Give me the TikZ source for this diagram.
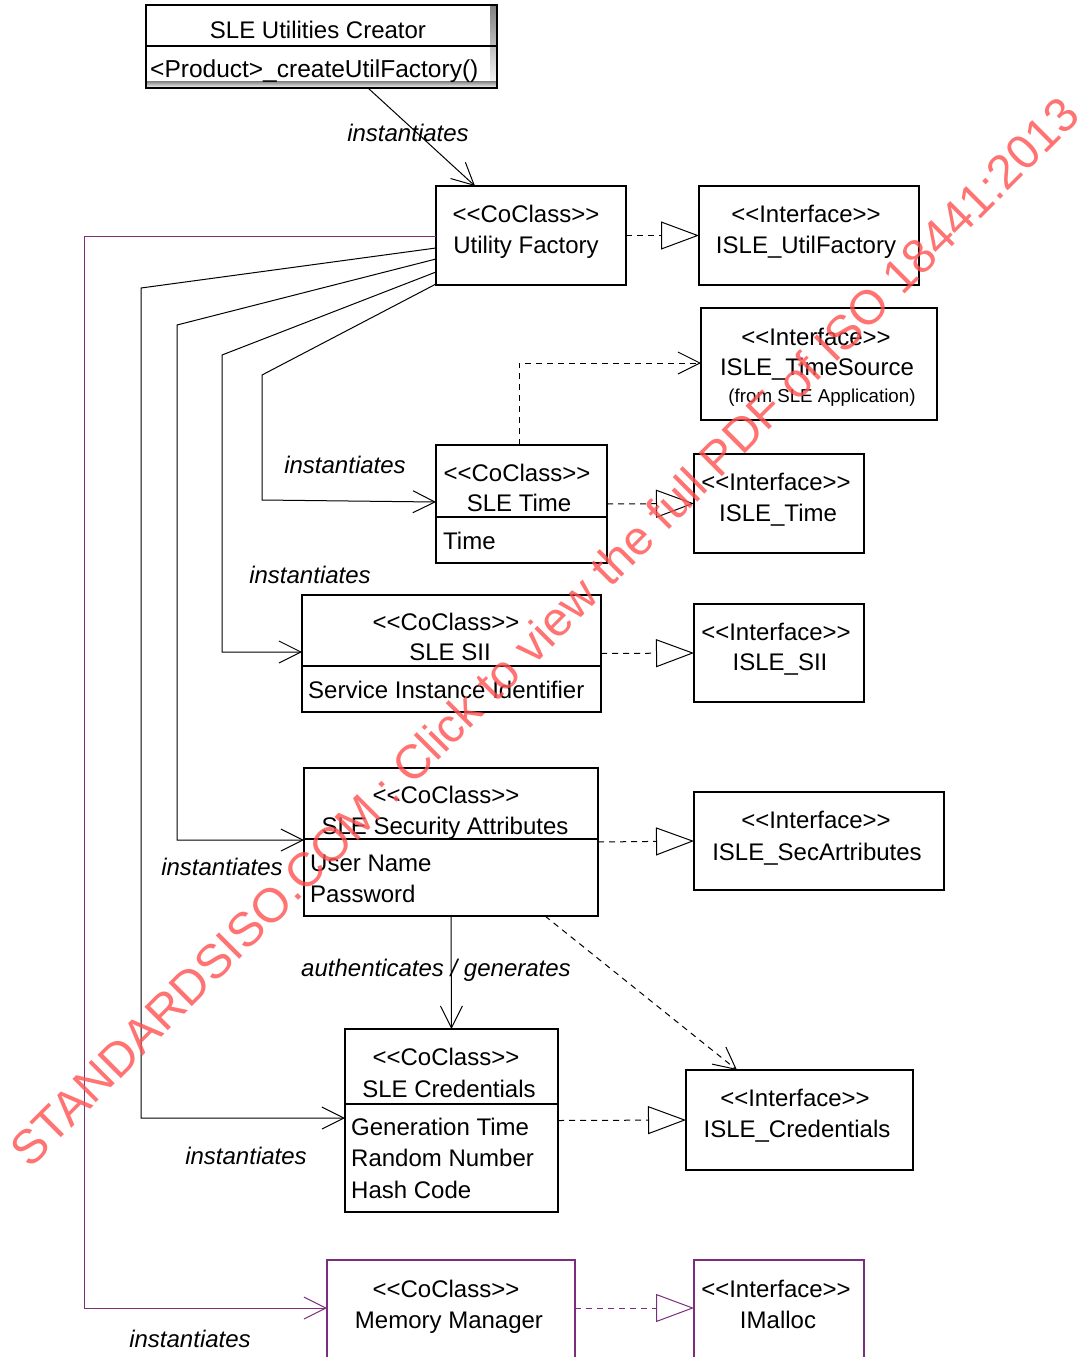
\documentclass[tikz,border=0pt]{standalone}
\usepackage{fontspec}
\setmainfont{Liberation Sans}[Ligatures=TeXOff]
\usetikzlibrary{arrows.meta,calc}
\definecolor{purp}{RGB}{125,45,125}
\definecolor{wm}{RGB}{255,80,80}
\definecolor{shade}{RGB}{128,128,128}
\begin{document}
\begin{tikzpicture}[x=1pt,y=-1pt,
  box/.style={draw, line width=1.2pt, anchor=north west, inner sep=0pt, outer sep=0pt},
  t/.style={font=\fontsize{24}{28}\selectfont, inner sep=0pt, anchor=base},
  tl/.style={t, anchor=base west},
  lab/.style={font=\fontsize{24}{28}\selectfont\itshape, inner sep=0pt, anchor=base},
  conn/.style={line width=1pt},
  inst/.style={conn, -{Straight Barb[length=22pt,width=22pt]}},
  real/.style={conn, dash pattern=on 6pt off 5pt, -{Triangle[open,length=38pt,width=28pt]}},
  dep/.style={conn, dash pattern=on 6pt off 5pt, -{Straight Barb[length=22pt,width=22pt]}},
  divider/.style={line width=1.2pt}
]
\useasboundingbox (0,0) rectangle (1077,1357);

% ---------- boxes ----------
\node[box, minimum width=351pt, minimum height=83pt] (cr) at (146,5) {};
\fill[shade] ($(cr.north east)+(-7,0)$) rectangle (cr.south east);
\fill[shade] ($(cr.south west)+(0,-7)$) rectangle (cr.south east);
\draw[line width=1.2pt] (cr.north west) rectangle (cr.south east);
\draw[divider] ($(cr.north west)+(0,41)$) -- ($(cr.north east)+(0,41)$);

\node[box, minimum width=190pt, minimum height=99pt] (uf) at (436,186) {};
\node[box, minimum width=220pt, minimum height=99pt] (iuf) at (699,186) {};
\node[box, minimum width=236pt, minimum height=112pt] (its) at (701,308) {};
\node[box, minimum width=171pt, minimum height=118pt] (time) at (436,445) {};
\draw[divider] ($(time.north west)+(0,72)$) -- ($(time.north east)+(0,72)$);
\node[box, minimum width=170pt, minimum height=99pt] (itime) at (694,454) {};
\node[box, minimum width=299pt, minimum height=117pt] (sii) at (302,595) {};
\draw[divider] ($(sii.north west)+(0,71)$) -- ($(sii.north east)+(0,71)$);
\node[box, minimum width=170pt, minimum height=98pt] (isii) at (694,604) {};
\node[box, minimum width=294pt, minimum height=148pt] (sa) at (304,768) {};
\draw[divider] ($(sa.north west)+(0,71)$) -- ($(sa.north east)+(0,71)$);
\node[box, minimum width=250pt, minimum height=98pt] (isa) at (694,792) {};
\node[box, minimum width=213pt, minimum height=183pt] (cred) at (345,1029) {};
\draw[divider] ($(cred.north west)+(0,75)$) -- ($(cred.north east)+(0,75)$);
\node[box, minimum width=227pt, minimum height=100pt] (icred) at (686,1070) {};
\node[box, draw=purp, minimum width=248pt, minimum height=130pt] (mm) at (327,1260) {};
\node[box, draw=purp, minimum width=170pt, minimum height=130pt] (imal) at (694,1260) {};

% ---------- texts ----------
\node[t] (crT) at (318,38) {SLE Utilities Creator};
\node[tl, font=\fontsize{24.5}{28}\selectfont] (crO) at (150,77) {<Product>\_createUtilFactory()};

\node[t] (ufS) at (526,222) {<<CoClass>>};
\node[t] (ufN) at (526,253) {Utility Factory};
\node[t] (iufS) at (806,222) {<<Interface>>};
\node[t] (iufN) at (806,253) {ISLE\_UtilFactory};

\node[t] (itsS) at (816,345) {<<Interface>>};
\node[t] (itsN) at (817,375) {ISLE\_TimeSource};
\node[font=\fontsize{18.7}{22}\selectfont, inner sep=0pt, anchor=base] (itsF) at (822,402) {(from SLE Application)};

\node[t] (timeS) at (517,481) {<<CoClass>>};
\node[t] (timeN) at (519,511) {SLE Time};
\node[tl] (timeA) at (443,549) {Time};
\node[t] (itimeS) at (776,490) {<<Interface>>};
\node[t] (itimeN) at (778,521) {ISLE\_Time};

\node[t] (siiS) at (446,630) {<<CoClass>>};
\node[t] (siiN) at (450,660) {SLE SII};
\node[tl] (siiA) at (308,698) {Service Instance Identifier};
\node[t] (isiiS) at (776,640) {<<Interface>>};
\node[t] (isiiN) at (780,670) {ISLE\_SII};

\node[t] (saS) at (446,803) {<<CoClass>>};
\node[t] (saN) at (445,834) {SLE Security Attributes};
\node[tl] (saA) at (310,871) {User Name};
\node[tl] (saB) at (310,902) {Password};
\node[t] (isaS) at (816,828) {<<Interface>>};
\node[t] (isaN) at (817,860) {ISLE\_SecArtributes};

\node[t] (credS) at (446,1065) {<<CoClass>>};
\node[t] (credN) at (449,1097) {SLE Credentials};
\node[tl] (credA) at (351,1135) {Generation Time};
\node[tl] (credB) at (351,1166) {Random Number};
\node[tl] (credC) at (351,1198) {Hash Code};
\node[t] (icredS) at (795,1106) {<<Interface>>};
\node[t] (icredN) at (797,1137) {ISLE\_Credentials};

\node[t] (mmS) at (446,1297) {<<CoClass>>};
\node[t] (mmN) at (449,1328) {Memory Manager};
\node[t] (imalS) at (776,1297) {<<Interface>>};
\node[t] (imalN) at (778,1328) {IMalloc};

% ---------- labels ----------
\node[lab] (l1) at (408,141) {instantiates};
\node[lab] (l2) at (345,473) {instantiates};
\node[lab] (l3) at (310,583) {instantiates};
\node[lab] (l4) at (222,875) {instantiates};
\node[lab] (l5) at (246,1164) {instantiates};
\node[lab] (l6) at (190,1347) {instantiates};
\node[lab] (l7) at (436,976) {authenticates / generates};

% ---------- connectors ----------
\draw[inst] ($(cr.south west)+(222,0)$) -- ($(uf.north west)+(39,0)$);

\draw[inst, draw=purp] ($(uf.north west)+(0,50)$) -- (84,236) -- (84,1308) -- ($(mm.north west)+(0,48)$);
\draw[inst] ($(uf.north west)+(0,62)$) -- (141,288) -- (141,1118) -- ($(cred.north west)+(0,89)$);
\draw[inst] ($(uf.north west)+(0,73)$) -- (177,325) -- (177,840) -- ($(sa.north west)+(0,72)$);
\draw[inst] ($(uf.north west)+(0,86)$) -- (222,355) -- (222,652) -- ($(sii.north west)+(0,57)$);
\draw[inst] ($(uf.north west)+(0,98)$) -- (262,375) -- (262,500) -- ($(time.north west)+(0,57)$);

\draw[real] (uf.east) -- (iuf.west);
\draw[real] (time.east) -- (itime.west);
\draw[real] (sii.east) -- (isii.west);
\draw[real] (sa.east) -- (isa.west);
\draw[real] (cred.east) -- (icred.west);
\draw[real, draw=purp] ($(mm.north east)+(0,48)$) -- ($(imal.north west)+(0,48)$);

\draw[dep] ($(time.north west)+(83,0)$) |- ($(its.north west)+(0,55)$);
\draw[inst] (sa.south) -- (cred.north);
\draw[dep] ($(sa.south west)+(241,0)$) -- ($(icred.north west)+(51,0)$);

% ---------- watermark ----------
\node[rotate=45, text=wm, text opacity=0.8, font=\fontsize{48}{50}\selectfont, inner sep=0pt] (wmk) at (544,631) {STANDARDSISO.COM : Click to view the full PDF of ISO 18441:2013};
\end{tikzpicture}
\end{document}
